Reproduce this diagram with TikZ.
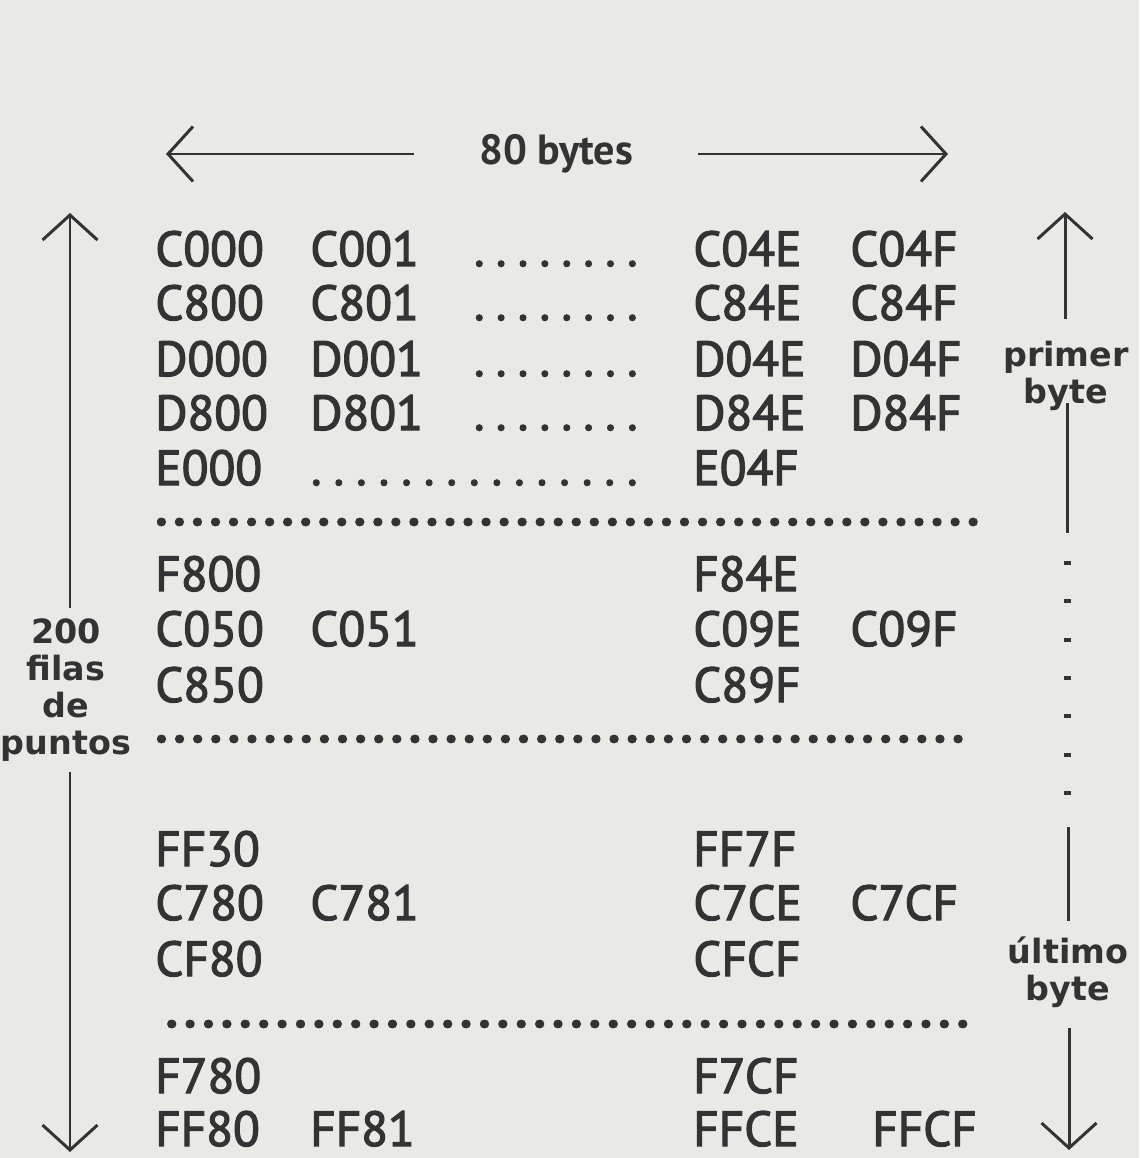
\documentclass[tikz,border=0pt]{standalone}
\usepackage{fontspec}
\setmainfont{PT Sans}
\newfontfamily\hexfont{PT Sans}[FakeBold=2.5]
\newfontfamily\notafont{DejaVu Sans}
\usetikzlibrary{arrows.meta}
\definecolor{papel}{HTML}{E9E9E5}
\definecolor{tinta}{HTML}{333333}
% run of n dots, one every #2, over a width of #1
\newcommand\puntitos[2]{\hbox to #1{\xleaders\hbox to #2{\hss.\hss}\hfill}}

\begin{document}
\begin{tikzpicture}[x=0.02cm,y=-0.02cm,
    hexa/.style={anchor=base west,inner sep=0pt,text=tinta,font=\hexfont\fontsize{28}{30}\selectfont},
    linea/.style={anchor=west,inner sep=0pt,text=tinta,font=\hexfont\bfseries\fontsize{28}{30}\selectfont},
    nota/.style={align=center,inner sep=0pt,text=tinta,font=\notafont\bfseries\fontsize{19}{21}\selectfont},
    fila/.style={inner sep=0pt,text=tinta,font=\bfseries\fontsize{24}{26}\selectfont},
    trazo/.style={draw=tinta,line width=1.7pt},
    flecha/.style={trazo,-{Straight Barb[length=0.5cm,width=1.1cm,line width=1.7pt]}}]
  \fill[papel] (0,0) rectangle (1139,1158);

  % ancho de la fila
  \node[fila] (ancho) at (556,154) {80 bytes};
  \coordinate (izq) at (166,154);
  \coordinate (der) at (948,154);
  \draw[flecha] ([xshift=-1.3cm]ancho.west) -- (izq);
  \draw[flecha] ([xshift=1.3cm]ancho.east) -- (der);

  % filas con cuatro direcciones
  \foreach \y/\a/\b/\c/\d/\xd in {248/C000/C001/C04E/C04F/850, 302/C800/C801/C84E/C84F/850,
      358/D000/D001/D04E/D04F/850, 412/D800/D801/D84E/D84F/850,
      628/C050/C051/C09E/C09F/850, 902/C780/C781/C7CE/C7CF/850,
      1128/FF80/FF81/FFCE/FFCF/872} {
    \node[hexa] (\a) at (155,\y+18) {\a};
    \node[hexa] (\b) at (310,\y+18) {\b};
    \node[hexa] (\c) at (693,\y+18) {\c};
    \node[hexa] (\d) at (\xd,\y+18) {\d};
  }
  \foreach \y in {248,302,358,412}
    \node[hexa] at (468,\y+18) {\puntitos{3.5cm}{0.4375cm}};

  % filas con dos direcciones
  \foreach \y/\a/\c in {467/E000/E04F, 573/F800/F84E, 684/C850/C89F,
      848/FF30/FF7F, 958/CF80/CFCF, 1075/F780/F7CF} {
    \node[hexa] (\a) at (155,\y+18) {\a};
    \node[hexa] (\c) at (693,\y+18) {\c};
  }
  \node[hexa] (pe) at (304,467+18) {\puntitos{6.8cm}{0.425cm}};

  % lineas de puntos
  \node[linea] (p1) at (152,522) {\puntitos{16.6cm}{0.36cm}};
  \node[linea] (p2) at (152,739) {\puntitos{16.3cm}{0.36cm}};
  \node[linea] (p3) at (162,1024) {\puntitos{16.2cm}{0.36cm}};

  % altura: 200 filas
  \node[nota] (filas) at (66,690) {200\\filas\\de\\puntos};
  \coordinate (fa) at (70,213);
  \coordinate (fb) at (70,1152);
  \draw[flecha] (filas.north -| fa) ++(0,-10) -- (fa);
  \draw[flecha] (filas.south -| fb) ++(0,10) -- (fb);

  % primer y ultimo byte
  \node[nota] (primer) at (1066,376) {primer\\byte};
  \node[nota] (ultimo) at (1068,972) {último\\byte};
  \coordinate (pa) at (1065,212);
  \coordinate (pb) at (1067,533);
  \coordinate (pc) at (1068,827);
  \coordinate (pd) at (1069,1150);
  \draw[flecha] (primer.north -| pa) ++(0,-22) -- (pa);
  \draw[trazo] (primer.south -| pb) ++(0,-8) -- (pb);
  \foreach \k in {0,...,6}
    \fill[tinta] (1064,{561+38.3*\k}) rectangle ++(7,4);
  \draw[trazo] (pc) -- ([yshift=0.3cm]ultimo.north -| pc);
  \draw[flecha] (ultimo.south -| pd) ++(0,20) -- (pd);
\end{tikzpicture}
\end{document}
